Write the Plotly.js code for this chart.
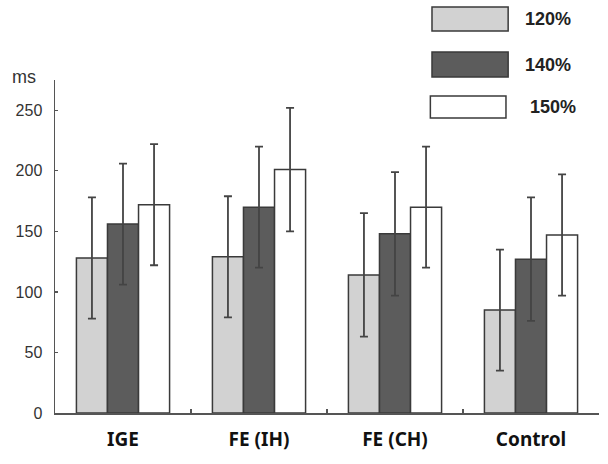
<!DOCTYPE html>
<html>
<head>
<meta charset="utf-8">
<script src="https://cdn.plot.ly/plotly-3.0.1.min.js"></script>
<style>html,body{margin:0;padding:0;background:#fff;}#chart{width:608px;height:464px;}</style>
</head>
<body>
<div id="chart"></div>
<script>
const categories = ["IGE", "FE (IH)", "FE (CH)", "Control"];
const seriesNames = ["120%", "140%", "150%"];
const values120 = [128, 129, 114, 85];
const values140 = [156, 170, 148, 127];
const values150 = [172, 201, 170, 147];
const err120 = [50, 50, 51, 50];
const err140 = [50, 50, 51, 51];
const err150 = [50, 51, 50, 50];
const yTicks = [0, 50, 100, 150, 200, 250];

const fills = ["#d2d2d2", "#5c5c5c", "#ffffff"];
const allVals = [values120, values140, values150];
const allErr = [err120, err140, err150];

const traces = seriesNames.map((n, i) => ({
  type: "bar",
  name: n,
  x: categories,
  y: allVals[i],
  marker: { color: fills[i], line: { color: "#3a3a3a", width: 1.5 } },
  error_y: { type: "data", array: allErr[i], visible: true, color: "#444", thickness: 1.8, width: 4 },
  hoverinfo: "none"
}));

// legend swatches (paper coordinates)
const legendBoxes = [
  { x0: 0.693, x1: 0.833, y0: 1.147, y1: 1.219 },
  { x0: 0.693, x1: 0.833, y0: 1.009, y1: 1.084 },
  { x0: 0.690, x1: 0.829, y0: 0.886, y1: 0.952 }
];
const legendLabelX = [0.907, 0.907, 0.915];
const shapes = legendBoxes.map((b, i) => ({
  type: "rect", xref: "paper", yref: "paper",
  x0: b.x0, x1: b.x1, y0: b.y0, y1: b.y1,
  fillcolor: fills[i], line: { color: "#3a3a3a", width: 1.5 }
}));
const annotations = seriesNames.map((n, i) => ({
  xref: "paper", yref: "paper",
  x: legendLabelX[i], y: (legendBoxes[i].y0 + legendBoxes[i].y1) / 2,
  text: n, showarrow: false, xanchor: "center", yanchor: "middle",
  font: { family: "Liberation Sans, Arial, sans-serif", size: 18, color: "#222", weight: "bold" }
}));
annotations.push({
  xref: "paper", yref: "paper", x: -0.057, y: 1.009, xanchor: "center", yanchor: "middle",
  text: "ms", showarrow: false,
  font: { family: "Liberation Sans, Arial, sans-serif", size: 18, color: "#333" }
});

const layout = {
  width: 608, height: 464,
  margin: { l: 55, r: 9, t: 80, b: 51 },
  paper_bgcolor: "#fff", plot_bgcolor: "#fff",
  showlegend: false,
  barmode: "group",
  bargap: 0.315,
  bargroupgap: 0,
  xaxis: {
    type: "category",
    showline: true, linecolor: "#555", linewidth: 1.5,
    ticks: "inside", tickson: "boundaries", ticklen: 4, tickcolor: "#555", tickwidth: 1.2,
    showgrid: false, zeroline: false,
    ticklabelstandoff: 9,
    tickfont: { family: "Noto Sans, Open Sans, sans-serif", size: 19, color: "#111", weight: "bold" }
  },
  yaxis: {
    range: [0, 275],
    tickvals: yTicks, ticktext: yTicks.map(String),
    showline: true, linecolor: "#555", linewidth: 1.5,
    ticks: "inside", ticklen: 3, tickcolor: "#555", tickwidth: 1.2,
    showgrid: false, zeroline: false,
    ticklabelstandoff: 8,
    tickfont: { family: "Liberation Sans, Arial, sans-serif", size: 16, color: "#333" }
  },
  shapes: shapes,
  annotations: annotations
};

Plotly.newPlot("chart", traces, layout, { staticPlot: true, displayModeBar: false });
</script>
</body>
</html>
